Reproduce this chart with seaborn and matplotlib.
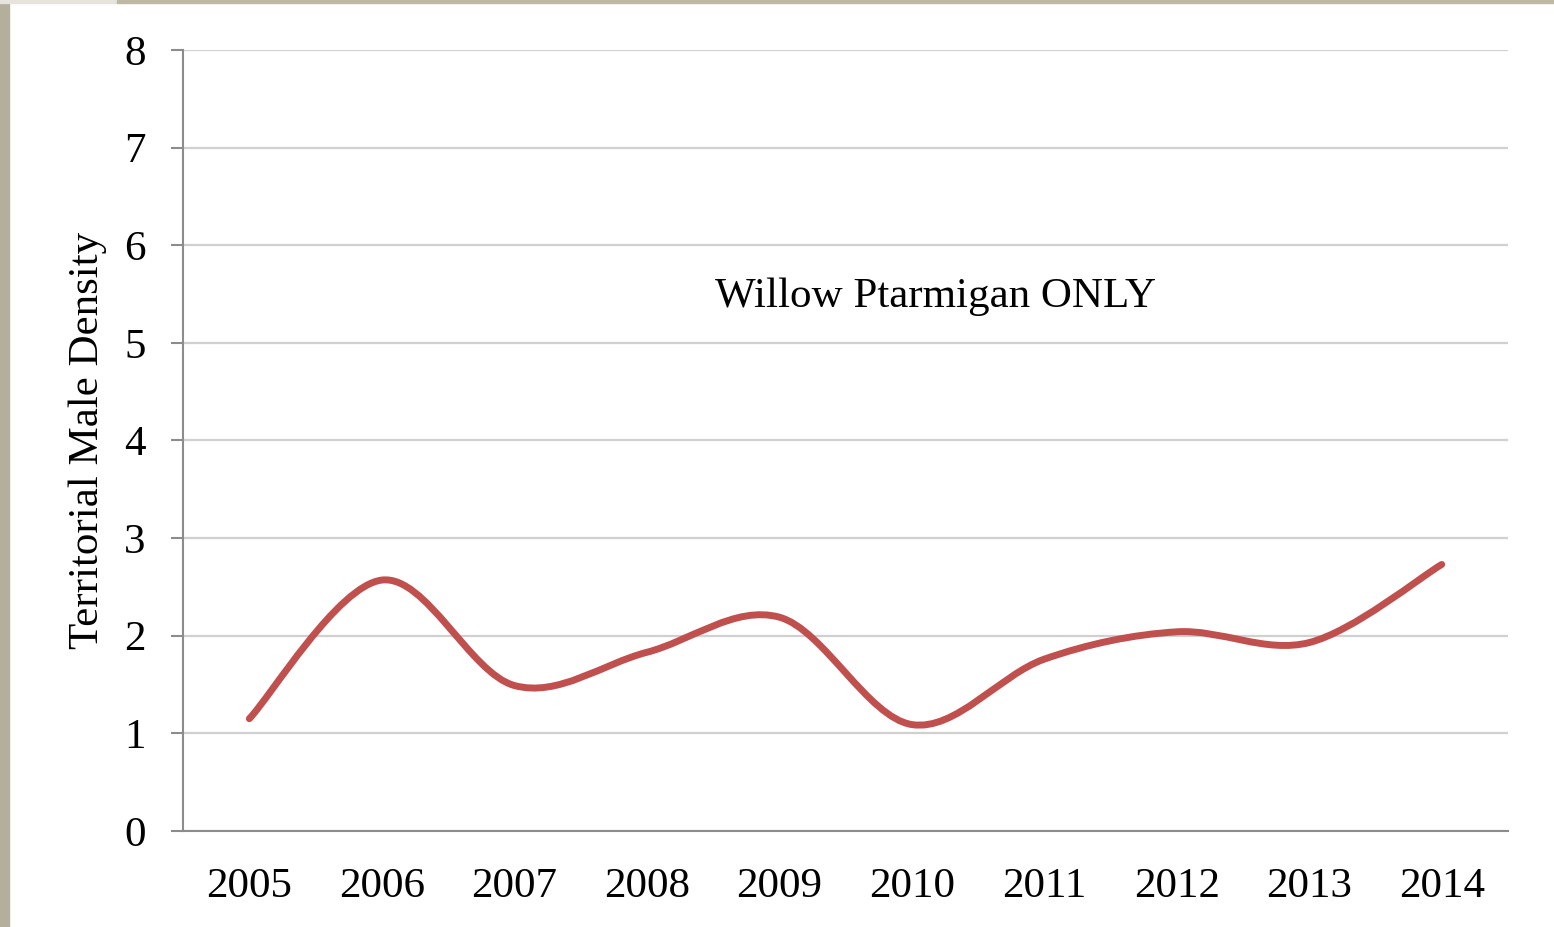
import numpy as np
import matplotlib
matplotlib.use("Agg")
import matplotlib.pyplot as plt
import seaborn as sns
from matplotlib.path import Path
from matplotlib.patches import PathPatch, Rectangle

# Densidade de machos territoriais - somente Willow Ptarmigan
years = ["2005", "2006", "2007", "2008", "2009", "2010", "2011", "2012", "2013", "2014"]
density = [1.15, 2.57, 1.49, 1.83, 2.19, 1.09, 1.76, 2.04, 1.93, 2.73]
y_ticks = [0, 1, 2, 3, 4, 5, 6, 7, 8]

sns.set_theme(style="white")
plt.rcParams["font.family"] = ["Liberation Serif", "DejaVu Serif"]
plt.rcParams["text.color"] = "black"
plt.rcParams["axes.labelcolor"] = "black"
plt.rcParams["xtick.labelcolor"] = "black"
plt.rcParams["ytick.labelcolor"] = "black"

fig = plt.figure(figsize=(15.54, 9.27), dpi=100)
ax = fig.add_axes([0.1178, 0.1036, 0.8526, 0.8425])

# borda bege do slide (esquerda e topo)
fig.patches.append(Rectangle((0, 0), 9 / 1554, 1, transform=fig.transFigure,
                             color="#B3AF9C", zorder=0))
fig.patches.append(Rectangle((0, 1 - 3 / 927), 117 / 1554, 3 / 927, transform=fig.transFigure,
                             color="#E6E4DC", zorder=0))
fig.patches.append(Rectangle((117 / 1554, 1 - 3 / 927), 1, 3 / 927, transform=fig.transFigure,
                             color="#BDB9A4", zorder=0))

# linha suavizada (estilo Excel) com curvas de Bezier sobre os pontos
x = np.arange(len(years), dtype=float)
pts = np.column_stack([x, density])
ext = np.vstack([pts[0], pts, pts[-1]])
verts = [tuple(pts[0])]
codes = [Path.MOVETO]
for i in range(len(pts) - 1):
    p0, p1, p2, p3 = ext[i], ext[i + 1], ext[i + 2], ext[i + 3]
    c1 = p1 + (p2 - p0) / 6
    c2 = p2 - (p3 - p1) / 6
    verts += [tuple(c1), tuple(c2), tuple(p2)]
    codes += [Path.CURVE4] * 3
ax.add_patch(PathPatch(Path(verts, codes), facecolor="none", edgecolor="#C0504D",
                       lw=5.0, capstyle="round", joinstyle="round", zorder=3))

ax.set_xlim(-0.5, len(years) - 0.5)
ax.set_ylim(0, 8)
ax.set_yticks(y_ticks)
ax.set_yticklabels([str(v) for v in y_ticks], fontsize=31)
ax.set_xticks(x)
ax.set_xticklabels(years, fontsize=31)
ax.set_xticks(np.arange(-0.5, len(years), 1.0), minor=True)
ax.tick_params(axis="x", which="major", length=0, pad=26)
ax.tick_params(axis="x", which="minor", length=9, width=1.5, color="#8C8C8C", direction="out")
ax.tick_params(axis="y", length=9, width=1.5, color="#8C8C8C", direction="out", pad=18, left=True)

ax.grid(axis="y", color="#D0D0D0", lw=1.6)
ax.set_axisbelow(True)
for side in ["top", "right"]:
    ax.spines[side].set_visible(False)
for side in ["left", "bottom"]:
    ax.spines[side].set_color("#8C8C8C")
    ax.spines[side].set_linewidth(1.5)

ax.set_ylabel("Territorial Male Density", fontsize=31, labelpad=12)
ax.text(5.18, 5.47, "Willow Ptarmigan ONLY", fontsize=31, ha="center", va="center")

fig.savefig("out.png", dpi=100, facecolor="white")
